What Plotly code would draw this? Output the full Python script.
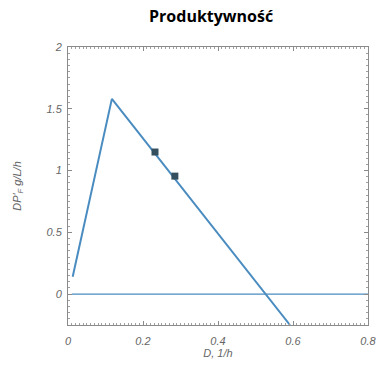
import plotly.graph_objects as go

# Data
curve_D = [0.0125, 0.117, 0.592]
curve_P = [0.14, 1.58, -0.25]
points_D = [0.232, 0.285]
points_P = [1.15, 0.955]
zero_D = [0.01, 0.8]
zero_P = [0, 0]
x_ticks = [0, 0.2, 0.4, 0.6, 0.8]
x_labels = ["0", "0.2", "0.4", "0.6", "0.8"]
y_ticks = [0, 0.5, 1, 1.5, 2]
y_labels = ["0", "0.5", "1", "1.5", "2"]

line_color = "#4a8cc0"
fig = go.Figure()
fig.add_trace(go.Scatter(x=zero_D, y=zero_P, mode="lines",
                         line=dict(color=line_color, width=1.3), showlegend=False))
fig.add_trace(go.Scatter(x=curve_D, y=curve_P, mode="lines",
                         line=dict(color=line_color, width=2), showlegend=False))
fig.add_trace(go.Scatter(x=points_D, y=points_P, mode="markers",
                         marker=dict(symbol="square", size=7, color="#34505e"), showlegend=False))

tick_font = dict(family="Liberation Sans", size=11, color="#666666", style="italic")
axis_common = dict(showgrid=False, zeroline=False, showline=True, mirror="ticks",
                   linecolor="#8a8a8a", linewidth=1, ticks="inside", ticklen=4,
                   tickcolor="#8a8a8a",
                   minor=dict(ticks="inside", ticklen=2, tickcolor="#a0a0a0", nticks=20),
                   tickfont=tick_font)

fig.update_xaxes(range=[0, 0.8], tickvals=x_ticks, ticktext=x_labels, ticklabelstandoff=6,
                 title=dict(text="D, 1/h", font=tick_font, standoff=0),
                 automargin=False, **axis_common)
fig.update_yaxes(range=[-0.25, 2], tickvals=y_ticks, ticktext=y_labels, ticklabelstandoff=3,
                 title=dict(text="DP'<sub>F</sub> g/L/h", font=tick_font, standoff=22),
                 automargin=False, **axis_common)

fig.update_layout(
    width=379, height=366,
    margin=dict(l=68, r=11, t=47, b=41),
    plot_bgcolor="white", paper_bgcolor="white",
    title=dict(text="<b>Produktywność</b>", x=0.557, xanchor="center", y=0.955, yanchor="middle",
               font=dict(family="Open Sans, Liberation Sans", size=16, color="black")),
)
fig.update_xaxes(tickangle=0)
fig.write_html("out.html")
